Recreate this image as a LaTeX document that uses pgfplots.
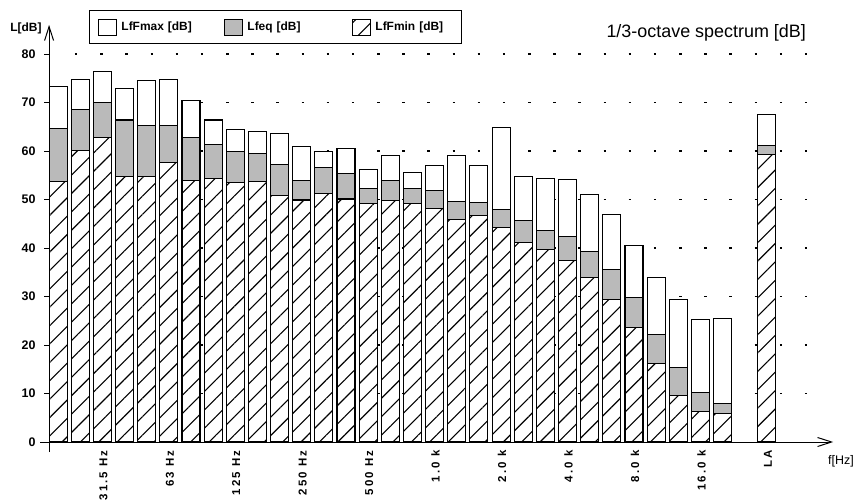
\documentclass[border=0pt]{standalone}
\usepackage{fontspec}
\setmainfont{Liberation Sans}
\newfontfamily\tickfont[LetterSpace=18]{Liberation Sans}
\usepackage{pgfplots}
\pgfplotsset{compat=1.18}
\usepackage{pgfplotstable}
\usetikzlibrary{patterns.meta,arrows.meta}

\pgfplotstableread{
idx  max   eq    min
0    73.3  64.7  53.8
1    74.8  68.6  60.1
2    76.4  70.0  62.7
3    72.9  66.4  54.8
4    74.5  65.2  54.8
5    74.8  65.3  57.6
6    70.4  62.7  53.9
7    66.4  61.4  54.4
8    64.5  59.9  53.5
9    64.1  59.5  53.7
10   63.6  57.3  50.8
11   61.0  54.0  49.9
12   59.9  56.6  51.2
13   60.5  55.3  50.1
14   56.2  52.3  49.2
15   59.0  53.9  49.8
16   55.6  52.3  49.2
17   57.0  51.8  48.2
18   59.0  49.6  45.8
19   57.0  49.3  46.7
20   64.8  48.0  44.3
21   54.7  45.6  41.1
22   54.4  43.7  39.6
23   54.2  42.3  37.5
24   51.1  39.2  33.9
25   47.0  35.5  29.3
26   40.5  29.8  23.6
27   33.9  22.2  16.1
28   29.3  15.3  9.5
29   25.3  10.2  6.2
30   25.5  8.0   5.9
32   67.6  61.2  59.3
}\spectrum

\tikzset{
  maxbar/.style={fill=white, draw=black, line width=1.1bp},
  eqbar/.style={fill=black!27, draw=black, line width=1.1bp},
  minbar/.style={fill=white, draw=black, line width=1.1bp,
     postaction={pattern={Lines[angle=45,distance=13bp,line width=1.1bp]}}},
}

\begin{document}
\begin{tikzpicture}
\begin{axis}[
  anchor=south west, at={(40bp,52bp)},
  x=22.15bp, y=4.85bp,
  xmin=-0.41, xmax=35.4, ymin=-2.06, ymax=86,
  axis lines=center,
  axis line style={line width=1bp, -{Straight Barb[length=14bp,width=9bp,line width=1bp]}},
  hide obscured y ticks=false,
  xtick={2.406,5.406,8.406,11.406,14.406,17.406,20.406,23.406,26.406,29.406,32.406},
  xticklabels={31.5 Hz,63 Hz,125 Hz,250 Hz,500 Hz,1.0 k,2.0 k,4.0 k,8.0 k,16.0 k,LA},
  xtick style={draw=none},
  xticklabel style={rotate=90, anchor=east, yshift=-1bp, font=\tickfont\bfseries\fontsize{11.5}{12}\selectfont},
  ytick={0,10,...,80},
  ytick style={line width=1bp, black},
  tick align=outside,
  major tick length=5bp,
  yticklabel style={anchor=east, xshift=-5bp, font=\bfseries\fontsize{12.5}{13}\selectfont},
  /pgf/number format/assume math mode=true,
  legend columns=3,
  legend style={at={(axis cs:1.80,89.07)}, anchor=north west, draw=black, line width=1bp,
     inner xsep=9bp, inner ysep=8bp, row sep=0pt, column sep=0pt,
     /tikz/every odd column/.style={column sep=4bp},
     /tikz/every even column/.style={column sep=9bp},
     font=\bfseries\fontsize{12}{13}\selectfont},
  legend image code/.code={\draw[#1, line width=1bp] (0bp,-8bp) rectangle (18bp,8bp);},
  clip=false,
]
\pgfplotsinvokeforeach{10,20,...,80}{
  \draw[line width=1.3bp, dash pattern=on 2.5bp off 22.67bp] (axis cs:1.17,#1) -- (axis cs:34.26,#1);
}
\addplot[ybar, bar width=18bp, bar shift=0pt, maxbar]
  table[x expr=\thisrow{idx}+0.406, y=max] {\spectrum};
\addlegendentry[text width=94bp, inner sep=0pt]{LfFmax [dB]}
\addplot[ybar, bar width=18bp, bar shift=0pt, eqbar]
  table[x expr=\thisrow{idx}+0.406, y=eq] {\spectrum};
\addlegendentry[text width=96bp, inner sep=0pt]{Lfeq [dB]}
\addplot[ybar, bar width=18bp, bar shift=0pt, minbar]
  table[x expr=\thisrow{idx}+0.406, y=min] {\spectrum};
\addlegendentry[text width=77bp, inner sep=0pt]{LfFmin [dB]}
\end{axis}
\node[font=\fontsize{18}{20}\selectfont, anchor=west] at (603bp,471bp) {1/3-octave spectrum [dB]};
\node[font=\bfseries\fontsize{12}{13}\selectfont] at (26bp,476bp) {L[dB]};
\node[font=\fontsize{12.5}{13}\selectfont] at (841bp,43bp) {f[Hz]};
\pgfresetboundingbox
\path[use as bounding box] (0bp,0bp) rectangle (855bp,504bp);
\end{tikzpicture}
\end{document}
